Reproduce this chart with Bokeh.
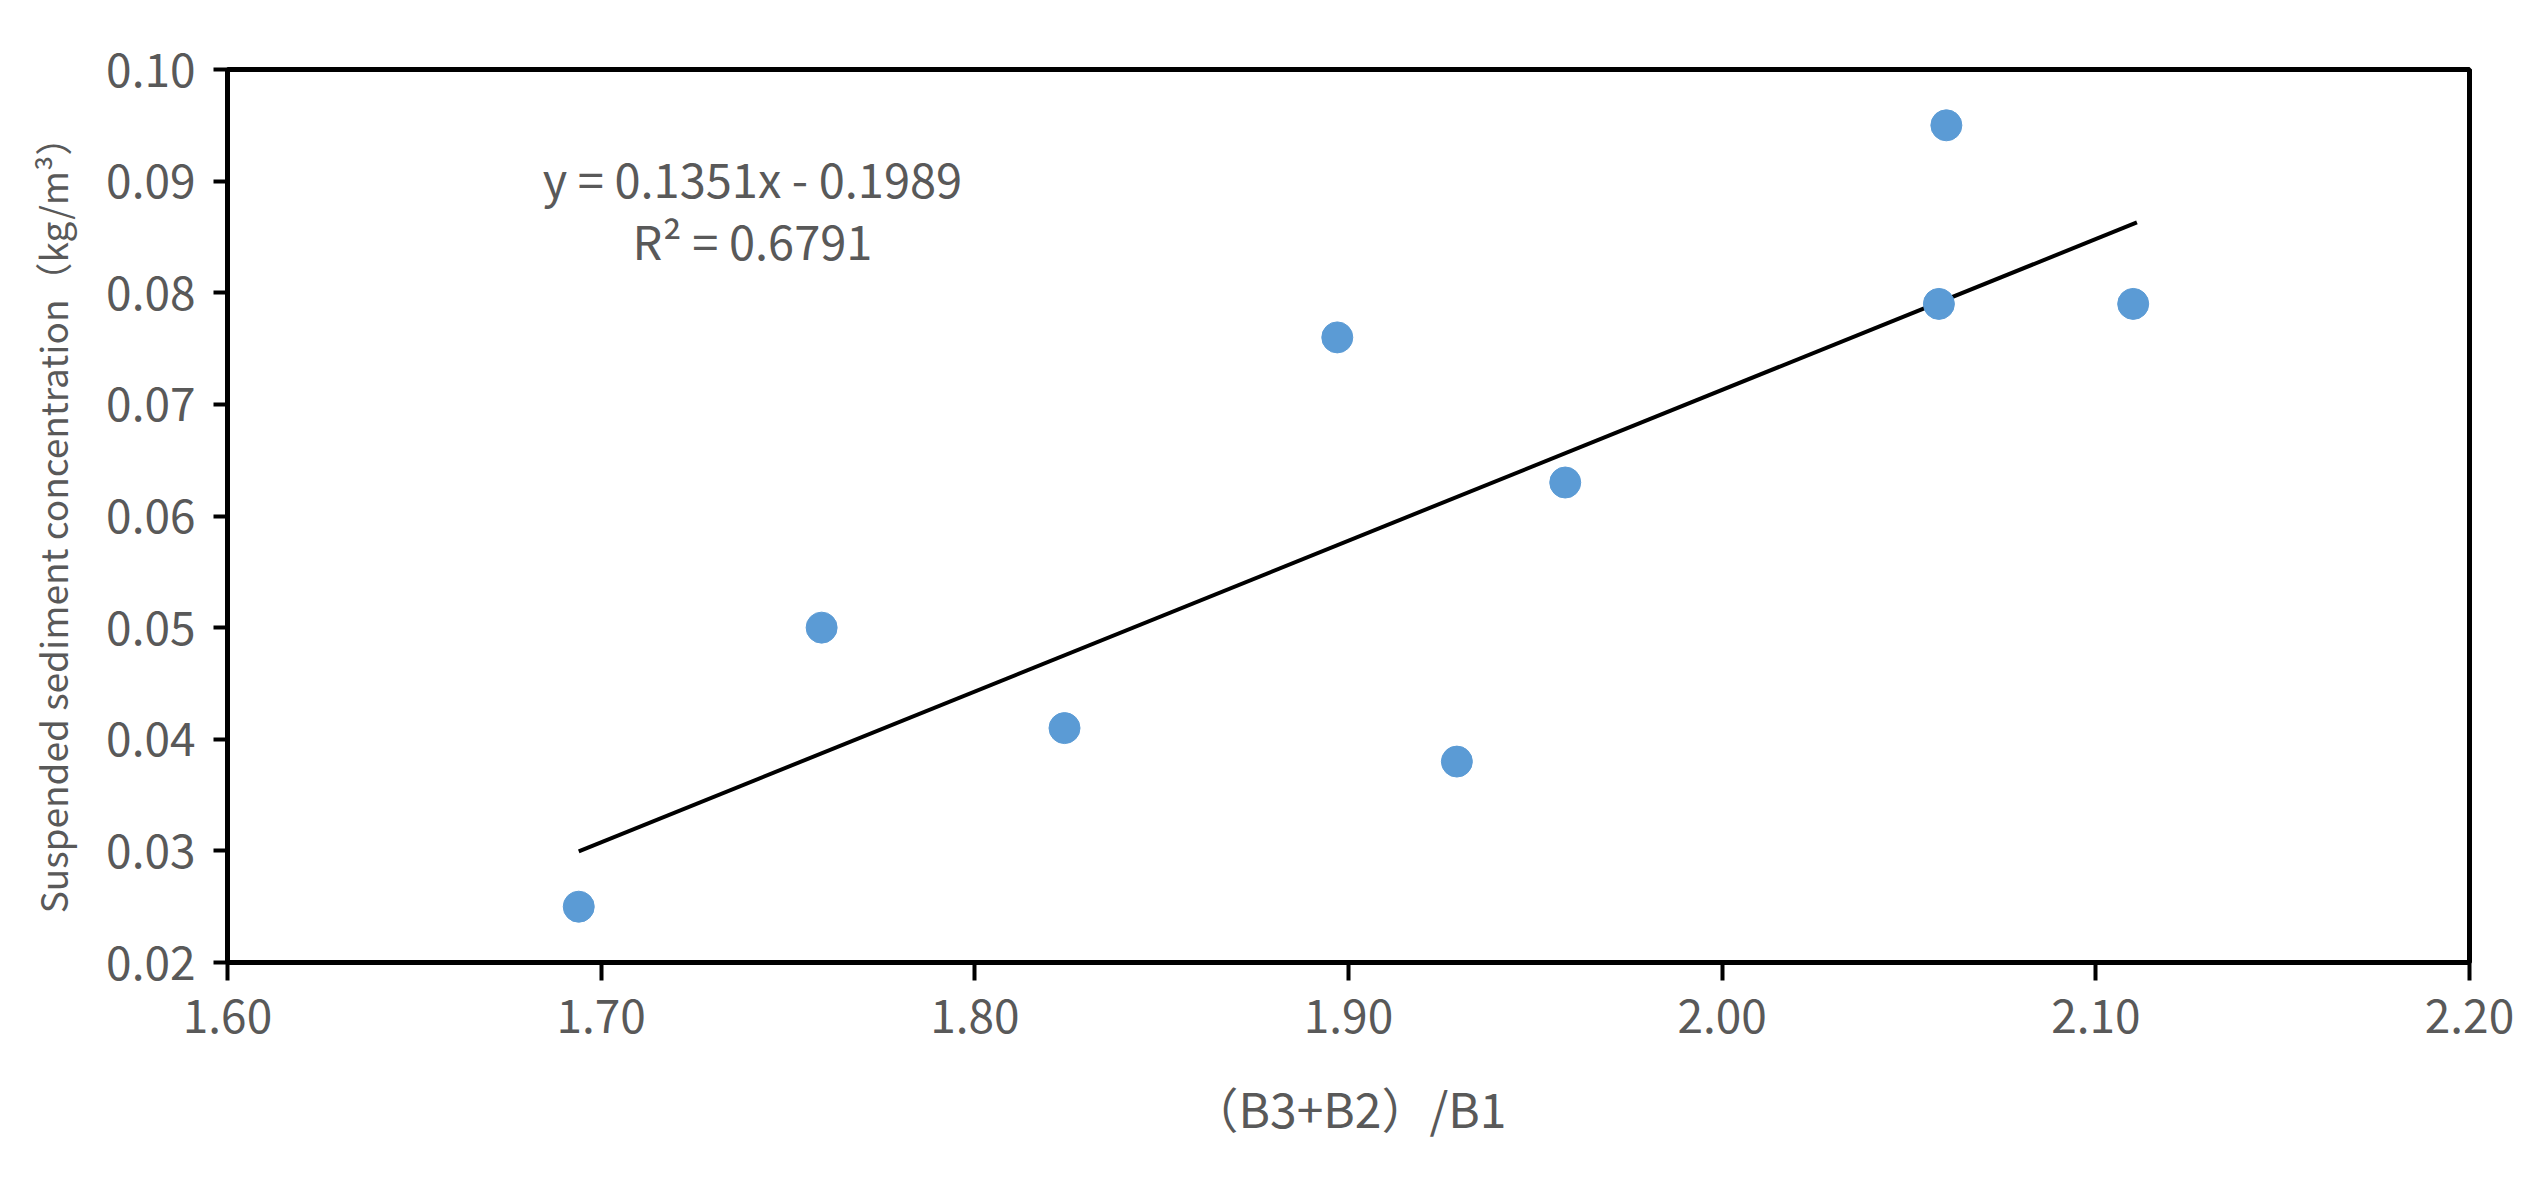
import math
from bokeh.plotting import figure
from bokeh.models import Range1d, FixedTicker, NumeralTickFormatter, Label
from bokeh.embed import file_html
from bokeh.resources import INLINE

# data
ratio = [1.694, 1.759, 1.824, 1.897, 1.929, 1.958, 2.058, 2.060, 2.110]
ssc = [0.025, 0.050, 0.041, 0.076, 0.038, 0.063, 0.079, 0.095, 0.079]
slope = 0.1351
intercept = -0.1989
trend_x = [1.694, 2.111]
trend_y = [slope * v + intercept for v in trend_x]
x_ticks = [1.60, 1.70, 1.80, 1.90, 2.00, 2.10, 2.20]
y_ticks = [0.02, 0.03, 0.04, 0.05, 0.06, 0.07, 0.08, 0.09, 0.10]
eq_text = "y = 0.1351x - 0.1989"
r2_text = "R² = 0.6791"
x_label = "（B3+B2）/B1"
y_label = "Suspended sediment concentration（kg/m³）"

FONT = "Noto Sans CJK SC"
GRAY = "#595959"

p = figure(width=2514, height=1166, output_backend="svg", toolbar_location=None,
           x_range=Range1d(1.6, 2.2), y_range=Range1d(0.02, 0.10),
           min_border_left=227, min_border_right=45, min_border_top=69, min_border_bottom=204)
p.background_fill_color = "white"
p.border_fill_color = "white"
p.outline_line_color = "black"
p.outline_line_width = 5
p.xgrid.visible = False
p.ygrid.visible = False

for ax in (p.xaxis[0], p.yaxis[0]):
    ax.axis_line_width = 5
    ax.axis_line_color = "black"
    ax.major_tick_line_width = 4
    ax.major_tick_line_color = "black"
    ax.minor_tick_line_color = None
    ax.major_tick_in = 0
    ax.major_label_text_font = FONT
    ax.major_label_text_font_size = "46px"
    ax.major_label_text_color = GRAY
    ax.formatter = NumeralTickFormatter(format="0.00")

p.xaxis[0].ticker = FixedTicker(ticks=x_ticks)
p.yaxis[0].ticker = FixedTicker(ticks=y_ticks)
p.xaxis[0].major_tick_out = 18
p.yaxis[0].major_tick_out = 14
p.xaxis[0].major_label_standoff = 18
p.yaxis[0].major_label_standoff = 18

p.xaxis[0].axis_label = x_label
p.xaxis[0].axis_label_text_font = FONT
p.xaxis[0].axis_label_text_font_size = "48px"
p.xaxis[0].axis_label_text_font_style = "normal"
p.xaxis[0].axis_label_text_color = GRAY
p.xaxis[0].axis_label_standoff = 36

p.yaxis[0].axis_label = y_label
p.yaxis[0].axis_label_text_font = FONT
p.yaxis[0].axis_label_text_font_size = "37px"
p.yaxis[0].axis_label_text_font_style = "normal"
p.yaxis[0].axis_label_text_color = GRAY
p.yaxis[0].axis_label_standoff = 24

p.line(trend_x, trend_y, line_color="black", line_width=4)
p.scatter(ratio, ssc, size=31, fill_color="#5B9BD5", line_color="#5B9BD5", line_width=1)

p.add_layout(Label(x=1.7405, y=0.0903, text=eq_text, text_font=FONT, text_font_size="47px",
                   text_color=GRAY, text_align="center", text_baseline="middle"))
p.add_layout(Label(x=1.7405, y=0.0848, text=r2_text, text_font=FONT, text_font_size="47px",
                   text_color=GRAY, text_align="center", text_baseline="middle"))

open("out.html", "w").write(file_html(p, INLINE))
